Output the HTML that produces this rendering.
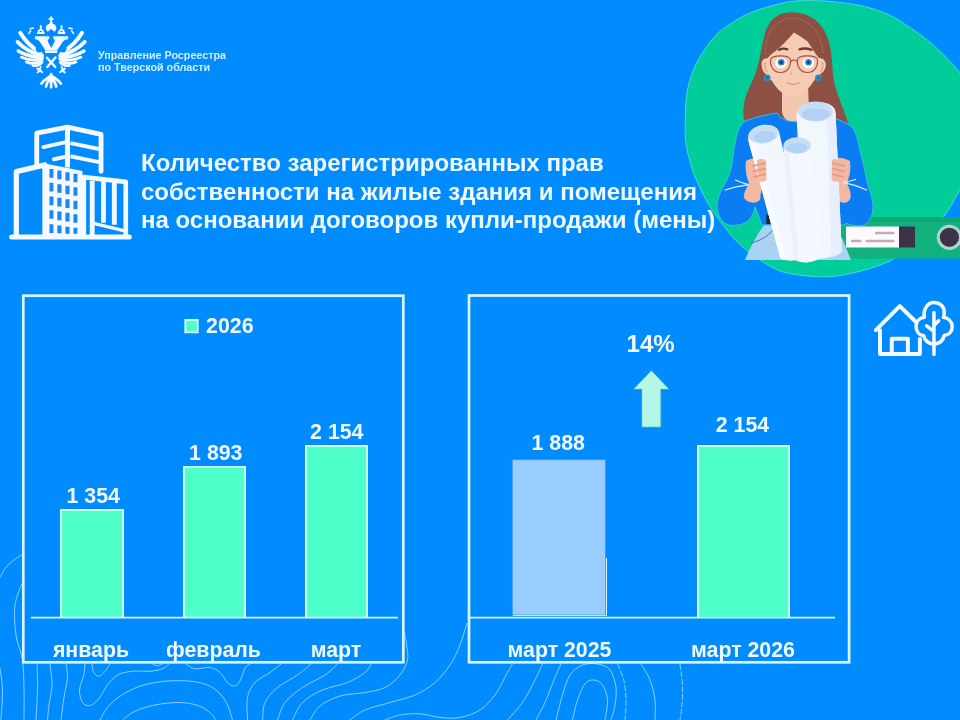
<!DOCTYPE html>
<html lang="ru">
<head>
<meta charset="utf-8">
<title>Количество зарегистрированных прав собственности</title>
<style>
*{box-sizing:border-box;margin:0;padding:0}
html,body{width:960px;height:720px;overflow:hidden}
body{background:#008cff;font-family:"Liberation Sans",sans-serif;color:#fff;position:relative}
.abs{position:absolute}
#logotxt{left:98px;top:48.6px;font-size:10.75px;line-height:12.1px;font-weight:bold;color:#d4ecff;white-space:nowrap}
#title{left:141px;top:149.1px;font-size:24px;line-height:28.4px;font-weight:bold;color:#f0f8ff;white-space:nowrap}
.axis{height:1.6px;background:#d4f1ff}
.bar{background:#4dffc8;border:2px solid #cffcf4;border-bottom:none}
.lbl{font-weight:bold;font-size:21.33px;line-height:24px;white-space:nowrap;text-align:center;color:#f0f8ff;transform:translateX(-50%)}
.val{font-weight:bold;font-size:21.33px;line-height:22px;white-space:nowrap;text-align:center;color:#f0f8ff;transform:translateX(-50%)}
</style>
</head>
<body>
<svg class="abs" style="left:0;top:0" width="960" height="720" viewBox="0 0 960 720">
  <g fill="none" stroke="#c9ecff" stroke-width=".85" stroke-opacity=".8">
    <path d="M0.0 577.5 C1.3 575.4 4.2 568.9 8.0 565.0 C11.8 561.1 20.1 555.8 22.5 554.0"/>
    <path d="M22.5 582.5 C21.2 586.2 16.1 596.2 15.0 605.0 C13.9 613.8 14.8 625.8 16.0 635.0 C17.2 644.2 21.2 650.8 22.5 660.0 C23.8 669.2 23.8 680.0 24.0 690.0 C24.2 700.0 24.0 715.0 24.0 720.0"/>
    <path d="M0.0 668.0 C0.4 671.7 2.3 681.3 2.5 690.0 C2.7 698.7 1.2 715.0 1.0 720.0"/>
    <path d="M37.0 664.0 C37.1 668.3 37.7 680.7 37.5 690.0 C37.3 699.3 36.2 715.0 36.0 720.0"/>
    <path d="M50.0 664.0 C50.3 667.5 52.2 678.2 52.0 685.0 C51.8 691.8 49.8 699.2 49.0 705.0 C48.2 710.8 47.8 717.5 47.5 720.0"/>
    <path d="M66.0 664.0 C66.2 666.2 67.8 671.9 67.5 677.5 C67.2 683.1 65.1 690.4 64.0 697.5 C62.9 704.6 61.5 716.2 61.0 720.0"/>
    <path d="M85.0 664.0 C84.8 665.8 84.7 670.7 83.8 675.0 C82.8 679.3 79.7 685.4 79.5 690.0 C79.3 694.6 80.8 699.9 82.5 702.5 C84.2 705.1 87.3 706.1 90.0 705.5 C92.7 704.9 95.8 702.2 98.8 698.8 C101.7 695.3 104.4 689.0 107.5 685.0 C110.6 681.0 113.3 677.3 117.5 675.0 C121.7 672.7 127.1 671.9 132.5 671.2 C137.9 670.6 145.0 671.7 150.0 671.2 C155.0 670.8 159.4 670.0 162.5 668.8 C165.6 667.5 167.7 664.8 168.8 664.0"/>
    <path d="M92.0 664.0 C92.3 665.4 92.6 670.5 93.8 672.5 C94.9 674.5 96.9 676.5 98.8 676.2 C100.6 676.0 103.1 673.3 105.0 671.2 C106.9 669.2 109.2 665.2 110.0 664.0"/>
    <path d="M152.5 664.0 C153.3 664.3 155.8 665.7 157.5 665.7 C159.2 665.7 161.7 664.3 162.5 664.0"/>
    <path d="M100.0 720.0 C101.2 717.9 104.2 711.5 107.5 707.5 C110.8 703.5 114.6 699.8 120.0 696.2 C125.4 692.7 132.5 688.8 140.0 686.2 C147.5 683.8 156.7 682.1 165.0 681.2 C173.3 680.4 182.9 680.6 190.0 681.2 C197.1 681.9 202.5 682.9 207.5 685.0 C212.5 687.1 216.7 690.4 220.0 693.8 C223.3 697.1 225.4 700.6 227.5 705.0 C229.6 709.4 231.7 717.5 232.5 720.0"/>
    <path d="M122.5 720.0 C124.6 718.5 129.6 713.8 135.0 711.2 C140.4 708.8 147.5 706.5 155.0 705.0 C162.5 703.5 172.5 702.3 180.0 702.5 C187.5 702.7 194.6 704.2 200.0 706.2 C205.4 708.3 210.0 712.7 212.5 715.0 C215.0 717.3 214.6 719.2 215.0 720.0"/>
    <path d="M186.0 664.0 C187.5 664.8 191.0 668.2 195.0 668.8 C199.0 669.3 205.8 666.9 210.0 667.5 C214.2 668.1 217.1 670.0 220.0 672.5 C222.9 675.0 225.0 680.2 227.5 682.5 C230.0 684.8 232.8 686.4 235.0 686.0 C237.2 685.6 238.8 683.0 240.5 680.0 C242.2 677.0 243.4 670.7 245.0 668.0 C246.6 665.3 249.2 664.7 250.0 664.0"/>
    <path d="M247.5 720.0 C247.5 716.2 246.2 703.8 247.5 697.5 C248.8 691.2 251.2 686.7 255.0 682.5 C258.8 678.3 265.7 675.6 270.0 672.5 C274.3 669.4 279.2 665.4 281.0 664.0"/>
    <path d="M262.5 720.0 C262.9 717.1 262.5 707.9 265.0 702.5 C267.5 697.1 272.1 692.1 277.5 687.5 C282.9 682.9 291.9 678.9 297.5 675.0 C303.1 671.1 308.8 665.8 311.0 664.0"/>
    <path d="M277.5 720.0 C278.8 717.1 280.8 707.9 285.0 702.5 C289.2 697.1 295.8 692.1 302.5 687.5 C309.2 682.9 319.2 678.9 325.0 675.0 C330.8 671.1 335.4 665.8 337.5 664.0"/>
    <path d="M292.5 720.0 C294.2 717.1 297.5 707.5 302.5 702.5 C307.5 697.5 315.0 693.3 322.5 690.0 C330.0 686.7 340.4 685.4 347.5 682.5 C354.6 679.6 361.1 675.6 365.0 672.5 C368.9 669.4 370.0 665.4 371.0 664.0"/>
    <path d="M310.0 720.0 C311.7 717.7 315.0 710.0 320.0 706.0 C325.0 702.0 332.5 698.2 340.0 696.0 C347.5 693.8 357.5 693.9 365.0 692.5 C372.5 691.1 379.2 690.4 385.0 687.5 C390.8 684.6 396.2 679.6 400.0 675.0 C403.8 670.4 406.4 665.0 407.5 660.0 C408.6 655.0 407.0 649.7 406.5 645.0 C406.0 640.3 404.8 634.2 404.5 632.0"/>
    <path d="M350.0 720.0 C352.5 718.3 358.3 712.9 365.0 710.0 C371.7 707.1 381.7 705.0 390.0 702.5 C398.3 700.0 407.5 698.3 415.0 695.0 C422.5 691.7 429.2 687.5 435.0 682.5 C440.8 677.5 445.8 671.2 450.0 665.0 C454.2 658.8 457.2 652.0 460.0 645.0 C462.8 638.0 465.8 626.7 467.0 623.0"/>
    <path d="M385.0 720.0 C387.5 719.2 394.2 716.0 400.0 715.0 C405.8 714.0 413.3 713.3 420.0 713.8 C426.7 714.2 433.3 716.9 440.0 717.5 C446.7 718.1 453.3 718.8 460.0 717.5 C466.7 716.2 474.2 713.8 480.0 710.0 C485.8 706.2 490.4 701.2 495.0 695.0 C499.6 688.8 504.6 677.7 507.5 672.5 C510.4 667.3 511.7 665.4 512.5 664.0"/>
    <path d="M542.5 664.0 C541.2 666.7 538.3 673.6 535.0 680.0 C531.7 686.4 527.1 695.8 522.5 702.5 C517.9 709.2 510.0 717.1 507.5 720.0"/>
    <path d="M561.0 664.0 C560.0 666.2 557.7 671.1 555.0 677.5 C552.3 683.9 548.2 695.4 545.0 702.5 C541.8 709.6 537.5 717.1 536.0 720.0"/>
    <path d="M556.0 720.0 C557.1 715.8 560.2 702.5 562.5 695.0 C564.8 687.5 566.7 680.0 570.0 675.0 C573.3 670.0 577.9 666.8 582.5 665.0 C587.1 663.2 592.9 663.2 597.5 664.0 C602.1 664.8 606.9 666.1 610.0 670.0 C613.1 673.9 615.2 681.7 616.0 687.5 C616.8 693.3 615.8 699.6 615.0 705.0 C614.2 710.4 611.7 717.5 611.0 720.0"/>
    <path d="M572.5 720.0 C573.3 716.7 575.4 706.0 577.5 700.0 C579.6 694.0 582.2 687.1 585.0 683.8 C587.8 680.4 591.1 679.8 594.0 680.0 C596.9 680.2 600.2 681.7 602.5 685.0 C604.8 688.3 607.1 694.2 607.5 700.0 C607.9 705.8 605.4 716.7 605.0 720.0"/>
    <path d="M617.5 664.0 C618.5 666.7 622.3 674.0 623.8 680.0 C625.2 686.0 625.8 693.3 626.0 700.0 C626.2 706.7 625.2 716.7 625.0 720.0" stroke-dasharray="6 1.5"/>
    <path d="M641.0 664.0 C642.5 666.7 647.7 674.0 650.0 680.0 C652.3 686.0 654.2 693.3 655.0 700.0 C655.8 706.7 655.0 716.7 655.0 720.0"/>
    <path d="M680.0 664.0 C680.4 667.5 682.2 678.2 682.5 685.0 C682.8 691.8 682.4 699.2 682.0 705.0 C681.6 710.8 680.3 717.5 680.0 720.0" stroke-dasharray="6 1.5"/>
  </g>
</svg>
<svg class="abs" style="left:0;top:0" width="960" height="720" viewBox="0 0 960 720">
  <!-- green blob -->
  <path d="M685.2 125.0 C685.4 115.8 685.5 100.4 687.5 90.0 C689.5 79.6 692.5 71.2 696.9 62.5 C701.3 53.8 708.4 43.8 713.8 37.5 C719.1 31.2 722.5 29.2 728.8 25.0 C735.0 20.8 741.9 16.2 751.2 12.5 C760.6 8.8 775.2 4.5 785.0 2.5 C794.8 0.5 801.7 0.7 810.0 0.6 C818.3 0.5 826.7 1.1 835.0 1.9 C843.3 2.7 852.5 4.0 860.0 5.6 C867.5 7.2 873.3 8.7 880.0 11.2 C886.7 13.8 891.3 15.5 900.0 21.0 C908.7 26.5 922.0 35.3 932.0 44.0 C942.0 52.7 952.5 63.5 960.0 73.0 C967.5 82.5 973.2 91.3 977.0 101.0 C980.8 110.7 983.2 120.8 983.0 131.0 C982.8 141.2 979.8 152.2 976.0 162.0 C972.2 171.8 965.3 181.0 960.0 190.0 C954.7 199.0 950.5 207.7 944.0 216.0 C937.5 224.3 929.2 233.0 921.0 240.0 C912.8 247.0 901.8 253.8 895.0 258.0 C888.2 262.2 885.8 262.8 880.0 265.0 C874.2 267.2 867.5 269.4 860.0 271.2 C852.5 273.1 843.3 275.4 835.0 276.2 C826.7 277.1 818.3 276.9 810.0 276.2 C801.7 275.6 791.7 274.2 785.0 272.5 C778.3 270.8 775.2 268.8 770.0 266.0 C764.8 263.2 758.8 259.3 753.5 255.5 C748.2 251.7 742.9 247.2 738.5 243.0 C734.1 238.8 731.9 236.3 727.0 230.0 C722.1 223.7 714.1 213.3 709.0 205.0 C703.9 196.7 699.5 186.7 696.5 180.0 C693.5 173.3 692.7 170.8 691.0 165.0 C689.3 159.2 687.2 151.7 686.2 145.0 C685.2 138.3 685.0 134.2 685.2 125.0Z" fill="#00cd9a" stroke="#45dccd" stroke-width="1"/>
  <!-- folder -->
  <rect x="766" y="217" width="194" height="41.5" fill="#11b07c"/>
  <rect x="766" y="217" width="194" height="5" fill="#0ea772"/>
  <rect x="846" y="226.5" width="53" height="21" fill="#fbfbfd"/>
  <rect x="899" y="226.5" width="16" height="21" fill="#3d3348"/>
  <rect x="875" y="231.7" width="19.5" height="2.6" rx="1" fill="#c7a9b2"/>
  <rect x="851" y="239.7" width="10.5" height="2.6" rx="1" fill="#c7a9b2"/>
  <rect x="865.5" y="239.7" width="29" height="2.6" rx="1" fill="#c7a9b2"/>
  <circle cx="949.4" cy="237.3" r="12.6" fill="#a9d6cd"/>
  <circle cx="949.4" cy="237.3" r="9.6" fill="#3d3348"/>
  <!-- skirt -->
  <path d="M744.8 260 C750 248 757 234 765 224 L842 238 L851 260 Z" fill="#a8d3f3"/>
  <path d="M751 243 C760 241 768 236 773 230" fill="none" stroke="#2b5fa8" stroke-width=".8"/>
  <!-- hair back -->
  <path d="M791 12.3 C777 12.3 768.5 21 765 33 C762 44 761 55 756.6 70 C752.5 83 745.5 93 744 104 C743 111 743 116 744.5 120.5 L780 128 L810 128 L848.5 124 C844 110 837 94 834.6 84 C831.5 70 833 55 828.8 41.7 C824 24 811 12.3 791 12.3Z" fill="#8d5144"/>
  <!-- neck -->
  <path d="M782 84 L782 112 C784 124 800 128 809 112 L808 84 Z" fill="#f4c6ad"/>
  <!-- shirt body -->
  <path d="M777 113 C765 115 754 117.5 745.8 121 C740 124 737 132 735.4 142 C733 152 733 160 731 169 C728 180 723 186 719.8 194 C717 201 716.5 206 717.7 211 C720 220 725 225 731 225.4 C738 225.8 744 224 748 221 C752 217 754 212 755 206.7 L762 225 L845 225 L846 223 C852 226 858 226 862.5 225.4 C869 224 873 216 873 206.7 C873 198 869 190 866.7 179.6 C864.5 170 863 161 860.4 152.5 C858 140 856 130 850 125.4 C843 120.5 828 116 812 113 C806 124 784 125 777 113Z" fill="#0b7df2" stroke="#35c6e0" stroke-width=".9"/>
  <rect x="766.3" y="214.8" width="6.5" height="9.2" fill="#1d2738"/>
  <!-- hands/forearms -->
  <path d="M746 161 C750 158 760 157 765 158 L766 182 C762 186 760 194 760.4 199 C758 204 748 204 744 198 C743 193 747 188 749 183 C746 176 745 168 746 161Z" fill="#f2b8a2"/>
  <path d="M850 161 C846 158 838 157 833 158 L832 182 C836 186 838 194 837.5 199 C840 204 848 204.5 850.5 198 C851.5 193 849 188 847 183 C850 176 851 168 850 161Z" fill="#f2b8a2"/>
  <!-- wrinkles -->
  <path d="M725 190 C733 187 741 185.5 748 184.8 M735.4 180 C740 182 744 183.5 748 184.5" fill="none" stroke="#d9efff" stroke-width="1.3" stroke-linecap="round"/>
  <path d="M866.7 190 C859 186.5 851 184 843.8 182.7 M855.5 179.5 C851 181 847 182 843.8 182.5" fill="none" stroke="#d9efff" stroke-width="1.3" stroke-linecap="round"/>
  <!-- rolls -->
  <g>
    <!-- right roll -->
    <path d="M796.5 116 C796 99 835.5 97 835.6 113 L841.8 251.7 C835 259 812 261 804 255 Z" fill="#f2f7fe"/>
    <path d="M827 108 L835.6 113 L841.8 251.7 C838 255 834 256 831 257 Z" fill="#e6effb"/>
    <ellipse cx="815.5" cy="111.5" rx="17.5" ry="10" fill="#c6ddf6"/>
    <ellipse cx="815.5" cy="114.5" rx="13.5" ry="6.3" fill="#abcdf1" opacity=".75"/>
    <!-- left roll -->
    <path d="M748.2 140 C746 123 778 119 779.5 134 L808 255 C800 262 786 262 780.3 258 Z" fill="#f2f7fe"/>
    <path d="M748.2 140 L780.3 258 L786 260 L755 142 Z" fill="#f8fbff"/>
    <ellipse cx="763.5" cy="134.3" rx="15.2" ry="9" transform="rotate(-8 763.5 134.3)" fill="#c6ddf6"/>
    <ellipse cx="764.5" cy="136.8" rx="11" ry="5.7" transform="rotate(-8 764.5 136.8)" fill="#abcdf1" opacity=".75"/>
    <!-- middle roll -->
    <path d="M783.5 148 C783 136 810.5 135 811 146 L823 256 C815 263.5 800 264.5 794 259 Z" fill="#f5f9ff"/>
    <path d="M783.5 148 L794 259 L799 261.5 L789 150 Z" fill="#e9f1fc"/>
    <ellipse cx="797.2" cy="145.5" rx="13.8" ry="8.2" fill="#c6ddf6"/>
    <ellipse cx="797.2" cy="148" rx="10.2" ry="5.2" fill="#abcdf1" opacity=".75"/>
  </g>
  <!-- fingers over rolls -->
  <path d="M757 160 C761 158 765 159 766 161 L766.5 180 C764 182 760 182 758 181 Z" fill="#f2b8a2"/>
  <path d="M752 166 L766 163 M752.5 171.5 L766 168.5 M753.5 177 L766 174" stroke="#e09a8a" stroke-width="1.6" fill="none"/>
  <path d="M839 160 C835 158 832.5 159 832 161 L831.5 180 C834 182 838 182 840 181 Z" fill="#f2b8a2"/>
  <path d="M845 166 L832 163 M844.5 171.5 L832 168.5 M843.5 177 L832 174" stroke="#e09a8a" stroke-width="1.6" fill="none"/>
  <!-- face -->
  <path d="M793.9 32.6 C789 38 784 44 778.6 48.6 C774 52.5 770 55 767.5 58.3 C764 58 761 60.5 761.7 65 C762 70 764 73 766 74 C767.5 78 769.5 79.5 771.7 80.5 C775 86 779 91 782.8 93 C788 96.5 797 96.5 803 93 C808 90 812 84 816 77.8 C818 76.5 820 75 821 73.5 C824 72 826 68 825.8 64 C825.5 60 822 58 818.9 58 C815 53 811 47 807.8 41.7 C803 38 798 35 793.9 32.6Z" fill="#f6cbb4"/>
  <path d="M765.5 62 C764 65 765 70 767.5 72 M822 62 C823.5 65 822.5 70 820 72" stroke="#eda98f" stroke-width="2" fill="none"/>
  <!-- eyebrows -->
  <path d="M779 49.8 C781.5 48.3 784.5 48.3 787.3 49.4" stroke="#6e3b2c" stroke-width="2.3" fill="none" stroke-linecap="round"/>
  <path d="M799.5 49.4 C803 48.2 807.5 48.3 811.5 49.9" stroke="#6e3b2c" stroke-width="2.3" fill="none" stroke-linecap="round"/>
  <!-- eyes -->
  <ellipse cx="781" cy="63" rx="5.8" ry="5.2" fill="#fdfdff"/>
  <ellipse cx="808.3" cy="63" rx="5.8" ry="5.2" fill="#fdfdff"/>
  <circle cx="781.2" cy="62.3" r="3.3" fill="#2d86c9"/>
  <circle cx="808.5" cy="62.3" r="3.3" fill="#2d86c9"/>
  <circle cx="781.2" cy="62.3" r="1.6" fill="#123f78"/>
  <circle cx="808.5" cy="62.3" r="1.6" fill="#123f78"/>
  <!-- glasses -->
  <path d="M770.5 60 C771 54.5 790 54.5 790.5 60 C791 67 787 72.5 780.5 72.5 C774 72.5 770 67 770.5 60Z M797.3 60 C797.8 54.5 817 54.5 817.5 60 C818 67 814 72.5 807.5 72.5 C801 72.5 796.8 67 797.3 60Z M790.5 61.5 C792.5 60 795.5 60 797.3 61.5" stroke="#a5553f" stroke-width="1.2" fill="none"/>
  <!-- nose, mouth -->
  <path d="M791.5 71 L790.8 75.5" stroke="#e8a98f" stroke-width="1" fill="none"/>
  <path d="M787 82.8 C791 84.8 796 84.8 799.5 82.8" stroke="#d98f80" stroke-width="1.2" fill="none" stroke-linecap="round"/>
  <!-- earrings -->
  <circle cx="767.2" cy="77.8" r="3.4" fill="#2a8dc0"/>
  <circle cx="818.5" cy="77.8" r="3.4" fill="#2a8dc0"/>
  <circle cx="767.2" cy="77.8" r="1.5" fill="#1d72a6"/>
  <circle cx="818.5" cy="77.8" r="1.5" fill="#1d72a6"/>
  <!-- hairband -->
  <path d="M765.5 54 C764 30 780 18 792 18 C806 18 822 30 823 54" stroke="#c98a7a" stroke-width=".6" fill="none" stroke-dasharray="1.5 1"/>
</svg>

<svg class="abs" style="left:0;top:0" width="120" height="90" viewBox="0 0 960 720">
  <g fill="none" stroke="#f3f9ff" stroke-linecap="round" stroke-linejoin="round">
    <!-- left wing feathers -->
    <path d="M322 420 C262 385 200 328 162 262" stroke-width="32"/>
    <path d="M330 445 C262 425 188 385 140 335" stroke-width="30"/>
    <path d="M322 462 C262 455 195 438 146 408" stroke-width="27"/>
    <path d="M322 478 C275 486 220 480 172 458" stroke-width="24"/>
    <path d="M328 490 C295 510 255 514 210 496" stroke-width="22"/>
    <path d="M338 498 C320 520 295 530 262 524" stroke-width="20"/>
    <!-- right wing feathers -->
    <path d="M496 420 C556 385 618 328 656 262" stroke-width="32"/>
    <path d="M488 445 C556 425 630 385 678 335" stroke-width="30"/>
    <path d="M496 462 C556 455 623 438 672 408" stroke-width="27"/>
    <path d="M496 478 C543 486 598 480 646 458" stroke-width="24"/>
    <path d="M490 490 C523 510 563 514 608 496" stroke-width="22"/>
    <path d="M480 498 C498 520 523 530 556 524" stroke-width="20"/>
    <path d="M316 388 m-30 0 a30 32 0 1 0 60 0 a30 32 0 1 0 -60 0 M502 388 m-30 0 a30 32 0 1 0 60 0 a30 32 0 1 0 -60 0" fill="#008cff" stroke="none"/>
    <!-- crossed tools -->
    <path d="M376 462 L442 536 M444 460 L378 536" stroke-width="19"/>
    <!-- legs -->
    <path d="M326 535 L308 565 M298 548 L338 578 M300 580 L325 560 M492 535 L510 565 M520 548 L480 578 M518 580 L493 560" stroke-width="15"/>
    <!-- tail -->
    <path d="M409 592 L409 698 M400 610 C380 625 350 640 332 668 M418 610 C438 625 468 640 486 668 M403 620 C388 645 372 665 368 692 M415 620 C430 645 446 665 450 692" stroke-width="22"/>
    <!-- small crowns -->
    <path d="M302 264 L350 264 M308 250 L326 234 L344 250 M326 226 L326 208" stroke-width="15"/>
    <path d="M468 264 L516 264 M474 250 L492 234 L510 250 M492 226 L492 208" stroke-width="15"/>
    <path d="M230 268 L246 246 M240 230 L268 224 M588 268 L572 246 M578 230 L550 224" stroke-width="11"/>
  </g>
  <g fill="#f3f9ff">
    <!-- V with heads -->
    <path d="M280 290 L394 290 L394 312 C382 314 378 322 384 334 L410 384 L436 334 C442 322 438 314 426 312 L426 290 L545 290 L545 314 C522 314 506 326 494 346 L456 404 L364 404 L326 346 C314 326 300 314 280 314 Z"/>
    <path d="M312 425 C328 420 342 424 350 436 L350 478 L322 500 C310 476 308 450 312 425 Z M506 425 C490 420 476 424 468 436 L468 478 L496 500 C508 476 510 450 506 425 Z"/>
    <path d="M360 404 L458 404 L458 424 L360 424 Z"/>
    <!-- top crown -->
    <path d="M368 236 C362 206 382 188 409 188 C436 188 456 206 450 236 L436 254 L409 232 L382 254 Z"/>
    <path d="M401 132h16v14h12v13h-12v22h-16v-22h-12v-13h12z"/>
    <circle cx="409" cy="184" r="13"/>
  </g>
</svg>

<div id="logotxt" class="abs">Управление Росреестра<br>по Тверской области</div>
<svg class="abs" style="left:0;top:115px" width="140" height="135" viewBox="0 0 747 720">
  <g fill="none" stroke="#f3f9ff" stroke-linejoin="round" stroke-linecap="round">
    <!-- tower -->
    <path d="M196 262 L196 97 L360 65 L539 103 L539 300" stroke-width="26"/>
    <path d="M360 64 L360 280" stroke-width="27" stroke-linecap="butt"/>
    <path d="M232 171 L346 146 M288 236 L346 223" stroke-width="21"/>
    <path d="M376 150 L528 181 M376 220 L528 251" stroke-width="21" stroke-linecap="butt"/>
    <!-- left building front -->
    <path d="M87 640 L87 302 L240 266 L240 640" stroke-width="28"/>
    <!-- right building -->
    <path d="M447 640 L447 331 L671 357 L671 640" stroke-width="25"/>
    <path d="M492 350 L492 640 M552 350 L552 575 M610 358 L610 585" stroke-width="26" stroke-linecap="butt"/>
    <path d="M500 578 L665 618" stroke-width="18"/>
    <!-- base -->
    <path d="M62 651 L690 651" stroke-width="27"/>
  </g>
  <!-- side face with windows -->
  <path d="M240 258 L440 298 L440 645 L240 645 Z" fill="#f3f9ff"/>
  <g fill="#1a86f7">
    <path d="M264 288h21v46h-21z M264 362h21v46h-21z M264 435h21v46h-21z M264 508h21v46h-21z M264 583h21v46h-21z"/>
    <path d="M306 296h22v46h-22z M306 369h22v46h-22z M306 442h22v46h-22z M306 515h22v46h-22z M306 589h22v42h-22z"/>
    <path d="M349 305h22v46h-22z M349 377h22v46h-22z M349 450h22v46h-22z M349 522h22v46h-22z M349 596h22v37h-22z"/>
    <path d="M392 313h21v46h-21z M392 385h21v46h-21z M392 457h21v46h-21z M392 529h21v46h-21z M392 602h21v32h-21z"/>
  </g>
</svg>

<div id="title" class="abs">Количество зарегистрированных прав<br>собственности на жилые здания и помещения<br>на основании договоров купли-продажи (мены)</div>

<svg class="abs" style="left:0;top:0" width="960" height="720"><rect x="23.3" y="295.7" width="380" height="366.6" fill="#008cff" stroke="#d9f5ff" stroke-width="2.7"/><rect x="469" y="295.5" width="380.1" height="366.8" fill="#008cff" stroke="#d9f5ff" stroke-width="2.7"/></svg>
<svg class="abs" style="left:0;top:0" width="960" height="720"><rect x="185.3" y="320" width="12.4" height="12.3" fill="#4dffc8" stroke="#d3fbf3" stroke-width="1.9"/></svg>
<div id="leg" class="abs val" style="left:229.8px;top:315.4px">2026</div>
<div class="abs bar" style="left:60px;top:509px;width:64px;height:108px"></div>
<div class="abs bar" style="left:183px;top:466px;width:63px;height:151px"></div>
<div class="abs bar" style="left:305px;top:445px;width:63px;height:172px"></div>
<svg class="abs" style="left:0;top:0" width="960" height="720"><path d="M31 617.7H398M470 617.7H835" stroke="#d8f3ff" stroke-width="1.8" fill="none"/></svg>
<div id="v1" class="abs val" style="left:93.2px;top:485px">1 354</div>
<div id="v2" class="abs val" style="left:215.8px;top:442px">1 893</div>
<div id="v3" class="abs val" style="left:336.8px;top:420.6px">2 154</div>
<div id="l1" class="abs lbl" style="left:91px;top:637.6px">январь</div>
<div id="l2" class="abs lbl" style="left:213.5px;top:637.6px">февраль</div>
<div id="l3" class="abs lbl" style="left:336px;top:637.6px">март</div>


<div id="pct" class="abs val" style="left:650.6px;top:329.6px;font-size:24px;line-height:28px">14%</div>
<svg class="abs" style="left:630px;top:368px" width="44" height="62" viewBox="630 368 44 62">
  <path d="M651.3 370.3 L669.6 389.4 L661 389.4 L661 427.3 L641.6 427.3 L641.6 389.4 L633 389.4 Z" fill="#b5f7e6" stroke="#1aa6c9" stroke-width="1"/>
</svg>
<svg class="abs" style="left:0;top:0" width="960" height="720"><rect x="512.3" y="459.7" width="93.2" height="155.3" fill="#9acdff" stroke="#3f97ec" stroke-width=".8"/></svg>
<div class="abs" style="left:513px;top:615.2px;width:93.4px;height:1.2px;background:#bfe9ff"></div>
<div class="abs" style="left:605.6px;top:558px;width:.9px;height:58px;background:#d9f0ff"></div>
<div class="abs bar" style="left:697px;top:445px;width:93px;height:172px"></div>

<div id="v4" class="abs val" style="left:558.2px;top:432px">1 888</div>
<div id="v5" class="abs val" style="left:742.5px;top:414px">2 154</div>
<div id="l4" class="abs lbl" style="left:559.5px;top:637.6px">март 2025</div>
<div id="l5" class="abs lbl" style="left:743px;top:637.6px">март 2026</div>
<svg class="abs" style="left:860px;top:290px" width="100" height="75" viewBox="0 0 960 720">
  <g fill="none" stroke="#f3f9ff" stroke-width="38" stroke-linecap="round" stroke-linejoin="round">
    <path d="M152 385 L382 155 L535 305"/>
    <path d="M192 385 L192 615 L575 615 L575 470"/>
    <path d="M305 600 L305 468 L460 468 L460 600" stroke-linecap="butt"/>
    <path d="M710 120 C775 120 815 165 808 230 C808 245 805 255 800 262 C850 268 885 305 885 350 C885 400 850 432 808 436 C800 480 765 515 710 520 C660 515 622 485 612 440 C565 432 538 395 538 350 C538 305 568 268 618 262 C605 190 645 120 710 120 Z" stroke-width="34"/>
    <path d="M710 215 L710 618 M710 400 L640 345 M710 340 L755 295" stroke-width="34"/>
  </g>
</svg>

</body>
</html>
